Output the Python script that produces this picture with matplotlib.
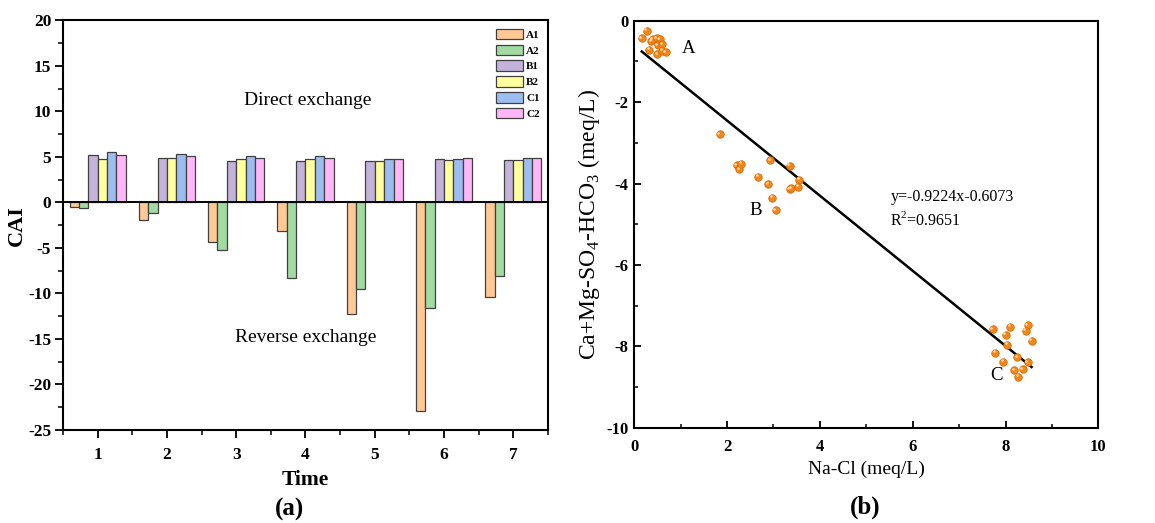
import numpy as np
import matplotlib
matplotlib.use("Agg")
import matplotlib.pyplot as plt
import matplotlib.transforms as mtransforms
from matplotlib.ticker import MultipleLocator

plt.rcParams['font.family'] = ['Liberation Serif', 'DejaVu Serif']
plt.rcParams['mathtext.fontset'] = 'custom'
plt.rcParams['mathtext.rm'] = 'Liberation Serif'
plt.rcParams['axes.unicode_minus'] = False

# ---- (a) CAI per time step ----
times = [1, 2, 3, 4, 5, 6, 7]
series = ['A1', 'A2', 'B1', 'B2', 'C1', 'C2']
A1 = [-0.48, -1.94, -4.4, -3.1, -12.3, -22.9, -10.45]
A2 = [-0.6, -1.2, -5.24, -8.36, -9.54, -11.6, -8.1]
B1 = [5.2, 4.9, 4.5, 4.58, 4.6, 4.73, 4.69]
B2 = [4.8, 4.9, 4.8, 4.76, 4.6, 4.69, 4.69]
C1 = [5.57, 5.27, 5.09, 5.05, 4.8, 4.8, 4.87]
C2 = [5.2, 5.05, 4.87, 4.87, 4.73, 4.84, 4.87]
bar_colors = ['#FFC996', '#A2DAA2', '#C3B3DA', '#FFFF9E', '#9DBDF0', '#FFB6F6']

# ---- (b) Na-Cl vs Ca+Mg-SO4-HCO3 ----
nacl_A = [0.165, 0.27, 0.32, 0.37, 0.40, 0.49, 0.55, 0.51, 0.60, 0.50, 0.61, 0.68]
cam_A = [-0.44, -0.25, -0.72, -0.50, -0.46, -0.43, -0.46, -0.61, -0.58, -0.83, -0.74, -0.78]
nacl_B = [1.84, 2.21, 2.27, 2.31, 2.67, 2.89, 2.93, 2.97, 3.05, 3.35, 3.35, 3.39, 3.56, 3.54]
cam_B = [-2.79, -3.55, -3.65, -3.51, -3.83, -4.02, -3.43, -4.35, -4.65, -3.56, -4.14, -4.12, -3.91, -4.08]
nacl_C = [7.72, 8.10, 8.00, 8.48, 8.43, 8.56, 8.03, 7.78, 7.95, 8.25, 8.48, 8.19, 8.37, 8.27]
cam_C = [-7.57, -7.51, -7.71, -7.47, -7.61, -7.86, -7.96, -8.15, -8.37, -8.27, -8.38, -8.58, -8.56, -8.74]
slope, intercept, r2 = -0.9224, -0.6073, 0.9651

fig = plt.figure(figsize=(11.55, 5.23), dpi=100)

# ---------------- panel (a) ----------------
ax1 = fig.add_axes([0.0545, 0.178, 0.42, 0.783])
width = 0.135
x = np.array(times, dtype=float)
for i, (name, vals) in enumerate(zip(series, [A1, A2, B1, B2, C1, C2])):
    ax1.bar(x + (i - 2.5) * width, vals, width, color=bar_colors[i],
            edgecolor='#404040', linewidth=0.9, label=name, zorder=2)
ax1.axhline(0, color='black', lw=1.4, zorder=3)
ax1.set_xlim(0.5, 7.5)
ax1.set_ylim(-25, 20)
ax1.set_xticks(times)
ax1.xaxis.set_minor_locator(MultipleLocator(0.5))
ax1.yaxis.set_major_locator(MultipleLocator(5))
ax1.yaxis.set_minor_locator(MultipleLocator(2.5))
ax1.tick_params(which='major', direction='out', length=5.5, width=1.3, labelsize=12.5, pad=3)
ax1.tick_params(axis='x', which='major', pad=7)
ax1.tick_params(which='minor', direction='out', length=3.5, width=1.1)
for lab in ax1.get_xticklabels() + ax1.get_yticklabels():
    lab.set_fontweight('bold')
for sp in ax1.spines.values():
    sp.set_linewidth(1.5)
ax1.set_xlabel('Time', fontsize=15.5, fontweight='bold', labelpad=5)
ax1.set_ylabel('CAI', fontsize=16, fontweight='bold', labelpad=1)
ax1.text(4.03, 11.2, 'Direct exchange', fontsize=14, ha='center', va='center')
ax1.text(4.0, -14.9, 'Reverse exchange', fontsize=14, ha='center', va='center')
leg = ax1.legend(loc='upper right', frameon=False,
                 prop={'weight': 'bold', 'size': 8}, handlelength=2.4,
                 handleheight=1.1, labelspacing=0.42, handletextpad=0.3,
                 borderaxespad=0.35)
fig.text(0.251, 0.025, '(a)', fontsize=18, fontweight='bold', ha='center', va='center')

# ---------------- panel (b) ----------------
ax2 = fig.add_axes([0.549, 0.1817, 0.402, 0.779])
nacl = nacl_A + nacl_B + nacl_C
cam = cam_A + cam_B + cam_C
ax2.scatter(nacl, cam, s=29, color='#F0871A', edgecolor='#D86E08', linewidth=0.6, zorder=3)
hl = ax2.transData + mtransforms.ScaledTranslation(-1.0 / 72, 1.0 / 72, fig.dpi_scale_trans)
ax2.scatter(nacl, cam, s=3.5, color='#FFD9A8', linewidth=0, zorder=4, transform=hl)
xl = np.array([min(nacl), max(nacl)])
ax2.plot(xl, slope * xl + intercept, color='black', lw=1.8, zorder=2)
ax2.set_xlim(0, 10)
ax2.set_ylim(-10, 0)
ax2.xaxis.set_major_locator(MultipleLocator(2))
ax2.xaxis.set_minor_locator(MultipleLocator(1))
ax2.yaxis.set_major_locator(MultipleLocator(2))
ax2.yaxis.set_minor_locator(MultipleLocator(1))
ax2.tick_params(which='major', direction='in', length=5, width=1.3, labelsize=12, pad=4)
ax2.tick_params(axis='x', which='major', pad=8)
ax2.tick_params(which='minor', direction='in', length=3, width=1.1)
for lab in ax2.get_xticklabels() + ax2.get_yticklabels():
    lab.set_fontweight('bold')
for sp in ax2.spines.values():
    sp.set_linewidth(1.5)
ax2.set_xlabel('Na-Cl (meq/L)', fontsize=14, labelpad=4)
ax2.set_ylabel('Ca+Mg-SO$_4$-HCO$_3$ (meq/L)', fontsize=17, labelpad=3)
ax2.text(1.18, -0.68, 'A', fontsize=13.5, ha='center', va='center')
ax2.text(2.62, -4.66, 'B', fontsize=13.5, ha='center', va='center')
ax2.text(7.80, -8.70, 'C', fontsize=13.5, ha='center', va='center')
ax2.text(5.52, -4.34, f'y={slope}x{intercept}', fontsize=11.5, ha='left', va='center')
ax2.text(5.52, -4.90, f'R$^2$={r2}', fontsize=11.5, ha='left', va='center')
fig.text(0.749, 0.03, '(b)', fontsize=18, fontweight='bold', ha='center', va='center')

fig.savefig('out.png', dpi=100)
